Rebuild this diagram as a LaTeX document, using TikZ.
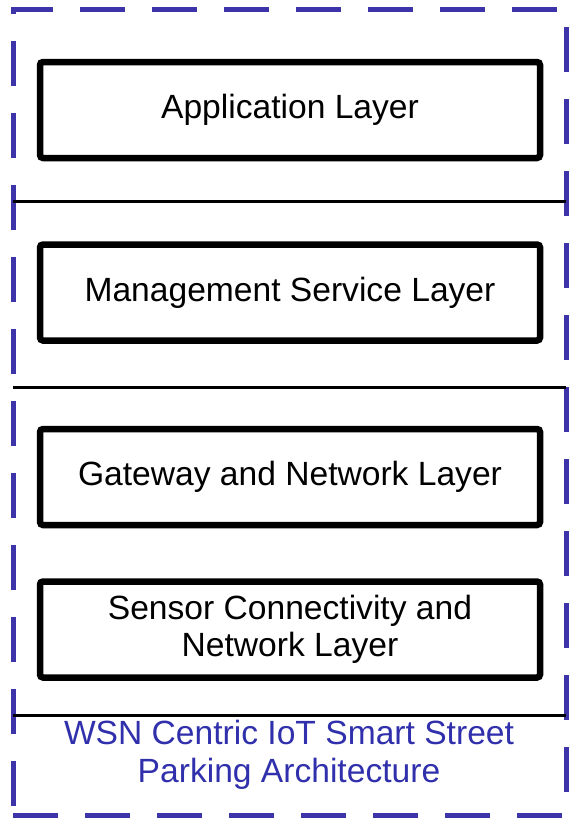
\documentclass[tikz,border=0pt]{standalone}
\usepackage{fontspec}
\setmainfont{Liberation Sans}
\usetikzlibrary{positioning,calc}
\definecolor{framedash}{RGB}{62,52,170}
\definecolor{captionblue}{RGB}{48,48,172}
\tikzset{
  layerbox/.style={
    draw,
    line width=6.5pt,
    rounded corners=3pt,
    minimum width=500pt,
    minimum height=96pt,
    align=center,
    inner sep=0pt
  },
  outerframe/.style={draw=framedash, line width=5pt, dash pattern=on 45pt off 27pt, outer sep=0pt, inner sep=0pt},
  sepline/.style={draw, line width=3pt},
  captiontext/.style={text=captionblue, align=center}
}

\begin{document}
\begin{tikzpicture}[
  node distance=80pt,
  every node/.style={font=\fontsize{33.6}{37.5}\selectfont}
]
\useasboundingbox (0,0) rectangle (569pt,-820pt);
\node[outerframe, minimum width=553pt, minimum height=806pt] (frame) at (289.5pt,-412pt) {};

\node[layerbox] (app) at (290pt,-110pt) {Application Layer};
\node[layerbox, below=80pt of app] (mgmt) {Management Service Layer};
\node[layerbox, below=82pt of mgmt] (gateway) {Gateway and Network Layer};
\node[layerbox, below=50pt of gateway] (sensor) {Sensor Connectivity and\\Network Layer};

\coordinate (sep1) at ($(app.south)!0.5!(mgmt.north)$);
\coordinate (sep2) at ($(mgmt.south)!0.53!(gateway.north)$);
\coordinate (sep3) at ($(sensor.south)+(0,-35pt)$);
\draw[sepline] (frame.west |- sep1) -- (frame.east |- sep1);
\draw[sepline] (frame.west |- sep2) -- (frame.east |- sep2);
\draw[sepline] (frame.west |- sep3) -- (frame.east |- sep3);

\node[captiontext] (caption) at (289pt,-755pt) {WSN Centric IoT Smart Street\\Parking Architecture};
\end{tikzpicture}
\end{document}
